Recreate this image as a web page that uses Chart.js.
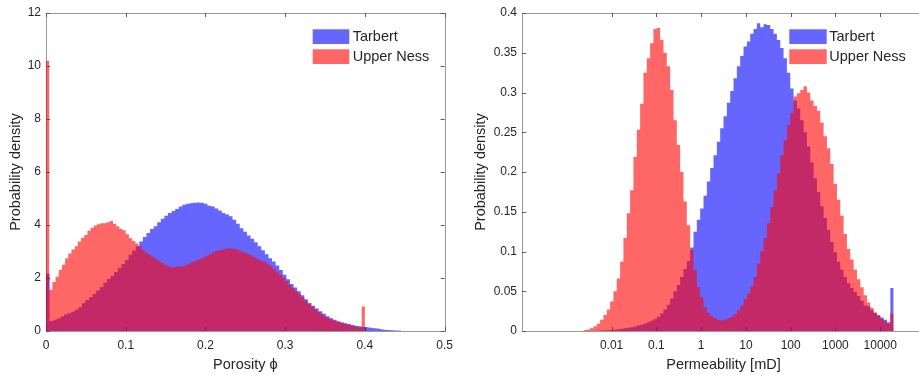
<!DOCTYPE html>
<html>
<head>
<meta charset="utf-8">
<script src="https://cdn.jsdelivr.net/npm/chart.js@4.4.1/dist/chart.umd.min.js"></script>
<style>
  html, body { margin: 0; padding: 0; background: #fff; overflow: hidden; }
  #wrap { position: relative; width: 919px; height: 375px; overflow: hidden; }
  canvas { position: absolute; top: 0; }
  #poro { left: 0; width: 460px; height: 375px; }
  #perm { left: 460px; width: 475px; height: 375px; }
</style>
</head>
<body>
<div id="wrap">
  <canvas id="poro" width="460" height="375"></canvas>
  <canvas id="perm" width="475" height="375"></canvas>
</div>
<script>
// porosity histograms (pdf), one value per bin
const poroBinTarbert = 0.0045;
const poroBinUpperNess = 0.004;
const tarbertPoro = [
  2.16, 0.38, 0.42, 0.47, 0.55, 0.62, 0.67, 0.73, 0.80, 0.90,
  1.05, 1.17, 1.28, 1.40, 1.53, 1.66, 1.82, 1.96, 2.08, 2.23,
  2.38, 2.53, 2.68, 2.88, 3.04, 3.20, 3.38, 3.55, 3.70, 3.85,
  3.95, 4.10, 4.24, 4.35, 4.45, 4.53, 4.60, 4.70, 4.76, 4.80,
  4.82, 4.84, 4.85, 4.84, 4.80, 4.73, 4.70, 4.62, 4.55, 4.45,
  4.40, 4.33, 4.20, 4.05, 3.88, 3.75, 3.60, 3.48, 3.35, 3.20,
  3.05, 2.90, 2.75, 2.62, 2.47, 2.30, 2.12, 1.95, 1.77, 1.64,
  1.50, 1.35, 1.20, 1.06, 0.95, 0.85, 0.75, 0.65, 0.56, 0.48,
  0.42, 0.37, 0.33, 0.29, 0.26, 0.23, 0.20, 0.18, 0.15, 0.14,
  0.12, 0.10, 0.09, 0.07, 0.05, 0.04, 0.03, 0.02, 0.015
];
const upperNessPoro = [
  10.2, 1.56, 1.85, 2.05, 2.30, 2.50, 2.75, 2.92, 3.08, 3.20,
  3.38, 3.52, 3.62, 3.78, 3.90, 3.98, 4.03, 4.07, 4.07, 4.10,
  4.15, 4.05, 3.95, 3.85, 3.80, 3.65, 3.50, 3.40, 3.30, 3.20,
  3.05, 2.95, 2.88, 2.80, 2.72, 2.65, 2.58, 2.50, 2.45, 2.40,
  2.42, 2.44, 2.43, 2.47, 2.52, 2.58, 2.62, 2.68, 2.72, 2.78,
  2.85, 2.90, 2.97, 3.02, 3.05, 3.08, 3.10, 3.12, 3.10, 3.10,
  3.05, 3.00, 2.96, 2.90, 2.85, 2.78, 2.72, 2.65, 2.62, 2.55,
  2.45, 2.35, 2.25, 2.12, 2.00, 1.88, 1.74, 1.62, 1.50, 1.40,
  1.27, 1.13, 1.02, 0.92, 0.82, 0.72, 0.64, 0.55, 0.50, 0.44,
  0.39, 0.35, 0.31, 0.27, 0.24, 0.21, 0.18, 0.16, 0.13, 0.92
];

// permeability histograms, bins equal in log10(K)
const permLogStart = -2.6285;
const permLogBin = 0.0745;
const tarbertPerm = [
  0, 0, 0, 0, 0.0003, 0.0005, 0.0007, 0.001, 0.0013, 0.0017,
  0.0022, 0.0028, 0.0034, 0.004, 0.0048, 0.0057, 0.0068, 0.008, 0.0093, 0.011,
  0.0128, 0.015, 0.018, 0.022, 0.027, 0.033, 0.041, 0.05, 0.058, 0.068,
  0.078, 0.088, 0.105, 0.125, 0.14, 0.154, 0.17, 0.188, 0.205, 0.221,
  0.238, 0.255, 0.27, 0.287, 0.302, 0.318, 0.333, 0.346, 0.358, 0.364,
  0.374, 0.38, 0.387, 0.382, 0.386, 0.385, 0.38, 0.374, 0.366, 0.356,
  0.343, 0.325, 0.305, 0.29, 0.28, 0.265, 0.25, 0.232, 0.212, 0.192,
  0.175, 0.157, 0.142, 0.127, 0.112, 0.099, 0.087, 0.077, 0.068, 0.06,
  0.054, 0.049, 0.044, 0.038, 0.032, 0.031, 0.026, 0.023, 0.020, 0.017,
  0.014, 0.011, 0.054
];
const upperNessPerm = [
  0.0012, 0.002, 0.0035, 0.006, 0.009, 0.014, 0.02, 0.027, 0.037, 0.05,
  0.066, 0.087, 0.117, 0.148, 0.177, 0.219, 0.253, 0.286, 0.325, 0.343,
  0.362, 0.38, 0.381, 0.366, 0.35, 0.333, 0.303, 0.265, 0.234, 0.2,
  0.163, 0.133, 0.102, 0.077, 0.055, 0.042, 0.03, 0.023, 0.019, 0.016,
  0.014, 0.0135, 0.014, 0.016, 0.018, 0.021, 0.026, 0.032, 0.04, 0.047,
  0.056, 0.068, 0.085, 0.1, 0.117, 0.136, 0.156, 0.177, 0.198, 0.221,
  0.24, 0.259, 0.274, 0.295, 0.299, 0.303, 0.308, 0.3, 0.29, 0.283,
  0.277, 0.262, 0.245, 0.23, 0.21, 0.185, 0.165, 0.145, 0.122, 0.103,
  0.09, 0.077, 0.065, 0.055, 0.045, 0.036, 0.029, 0.023, 0.019, 0.015,
  0.012, 0.009, 0.022
];
const permTicks = [0.01, 0.1, 1, 10, 100, 1000, 10000];

const BLUE = 'rgba(0,0,255,0.6)';
const RED = 'rgba(255,0,0,0.6)';
const TEXT = '#262626';
const FONT = '"Liberation Sans", Arial, Helvetica, sans-serif';

Chart.defaults.font.family = FONT;
Chart.defaults.color = TEXT;

// stepped outline points: one per left bin edge, plus the closing right edge
function histPoints(values, start, width, toX) {
  const pts = values.map((v, i) => ({ x: toX(start + i * width), y: v }));
  pts.push({ x: toX(start + values.length * width), y: 0 });
  return pts;
}

// MATLAB-ish number labels: no trailing zeros
const plain = v => String(Math.round(v * 10000) / 10000);

const boxPlugin = {
  id: 'mbox',
  beforeDatasetsDraw(chart) {
    const { ctx, chartArea: a, scales: { x, y } } = chart;
    ctx.save();
    ctx.lineWidth = 1;
    ctx.strokeStyle = '#9a9a9a';
    ctx.strokeRect(Math.round(a.left) + 0.5, Math.round(a.top) + 0.5,
      Math.round(a.right - a.left), Math.round(a.bottom - a.top));
    ctx.strokeStyle = '#5a5a5a';
    ctx.beginPath();
    const L = 4;
    x.ticks.forEach(t => {
      const p = Math.round(x.getPixelForValue(t.value)) + 0.5;
      ctx.moveTo(p, a.bottom); ctx.lineTo(p, a.bottom - L);
      ctx.moveTo(p, a.top); ctx.lineTo(p, a.top + L);
    });
    y.ticks.forEach(t => {
      const p = Math.round(y.getPixelForValue(t.value)) + 0.5;
      ctx.moveTo(a.left, p); ctx.lineTo(a.left + L, p);
      ctx.moveTo(a.right, p); ctx.lineTo(a.right - L, p);
    });
    ctx.stroke();
    ctx.restore();
  }
};

function legendPlugin(L) {
  return {
    id: 'mlegend',
    afterDraw(chart) {
      const ctx = chart.ctx;
      ctx.save();
      ctx.font = '14.5px ' + FONT;
      ctx.textBaseline = 'middle';
      chart.data.datasets.forEach((ds, k) => {
        const y = L.y + k * L.dy;
        ctx.fillStyle = ds.backgroundColor;
        ctx.fillRect(L.x, y, L.w, L.h);
        ctx.fillStyle = TEXT;
        ctx.fillText(ds.label, L.tx, y + L.h / 2 + 0.5);
      });
      ctx.restore();
    }
  };
}

function histChart(id, o) {
  const xScale = {
    type: o.xType,
    min: o.xMin,
    max: o.xMax,
    grid: { display: false, drawTicks: false },
    border: { display: false },
    ticks: { padding: 7, font: { size: 12 }, autoSkip: false, maxRotation: 0, callback: plain },
    title: { display: true, text: o.xTitle, font: { size: 14.5 }, padding: { top: 0, bottom: 1 } },
    afterFit(s) { s.height = 44; }
  };
  if (o.xStep) xScale.ticks.stepSize = o.xStep;
  if (o.xTicks) {
    xScale.afterBuildTicks = s => { s.ticks = o.xTicks.map(v => ({ value: v })); };
  }
  return new Chart(document.getElementById(id), {
    type: 'line',
    data: {
      datasets: [
        { label: 'Tarbert', data: o.blue, order: 2, backgroundColor: BLUE,
          borderColor: 'rgba(0,0,0,0)', borderWidth: 0, fill: 'origin',
          stepped: 'before', pointRadius: 0, tension: 0 },
        { label: 'Upper Ness', data: o.red, order: 1, backgroundColor: RED,
          borderColor: 'rgba(0,0,0,0)', borderWidth: 0, fill: 'origin',
          stepped: 'before', pointRadius: 0, tension: 0 }
      ]
    },
    options: {
      responsive: false,
      animation: false,
      layout: { padding: { left: 0, top: 13, right: o.padRight, bottom: 0 } },
      plugins: { legend: { display: false }, tooltip: { enabled: false } },
      scales: {
        x: xScale,
        y: {
          min: 0,
          max: o.yMax,
          grid: { display: false, drawTicks: false },
          border: { display: false },
          ticks: { stepSize: o.yStep, padding: 5, font: { size: 12 }, callback: plain },
          title: { display: true, text: 'Probability density', font: { size: 14.5 },
            padding: { top: o.yTitlePad, bottom: 0 } },
          afterFit(s) { s.width = o.yWidth; }
        }
      }
    },
    plugins: [boxPlugin, legendPlugin(o.legend)]
  });
}

const lin = v => v;
const pow10 = v => Math.pow(10, v);

histChart('poro', {
  xType: 'linear', xMin: 0, xMax: 0.5, xStep: 0.1, xTitle: 'Porosity ϕ',
  yMax: 12, yStep: 2, yWidth: 46, yTitlePad: 7, padRight: 12,
  blue: histPoints(tarbertPoro, 0, poroBinTarbert, lin),
  red: histPoints(upperNessPoro, 0, poroBinUpperNess, lin),
  legend: { x: 312.7, y: 29.3, w: 36.6, h: 14.7, dy: 20, tx: 352.7 }
});

histChart('perm', {
  xType: 'logarithmic', xMin: 1e-4, xMax: 1e5, xTicks: permTicks, xTitle: 'Permeability [mD]',
  yMax: 0.4, yStep: 0.05, yWidth: 62, yTitlePad: 12, padRight: 10,
  blue: histPoints(tarbertPerm, permLogStart, permLogBin, pow10),
  red: histPoints(upperNessPerm, permLogStart, permLogBin, pow10),
  legend: { x: 329.3, y: 29.3, w: 37.4, h: 14.7, dy: 20, tx: 369.3 }
});
</script>
</body>
</html>
